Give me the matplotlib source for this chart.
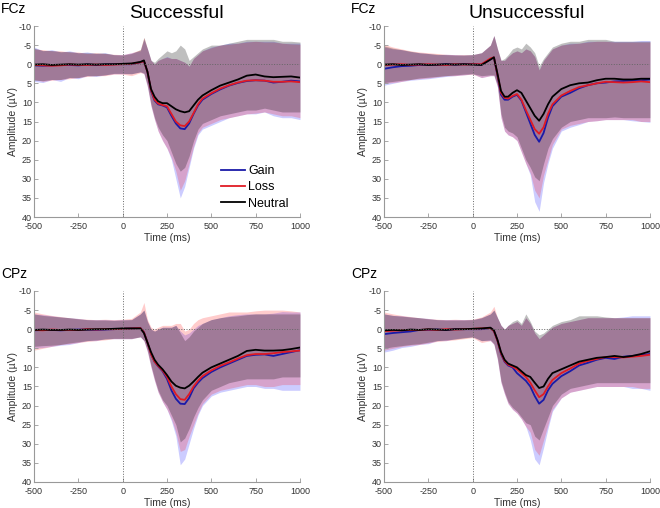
import matplotlib
matplotlib.use('Agg')
import matplotlib.pyplot as plt

plt.rcParams['font.family'] = ['Liberation Sans', 'DejaVu Sans']
plt.rcParams['axes.unicode_minus'] = False

t = [-500, -450, -400, -350, -300, -250, -200, -150, -100, -50, 0, 50, 100, 120, 140, 160, 180, 200,
     225, 250, 275, 300, 325, 350, 375, 400, 425, 450, 500, 550, 600, 650, 700, 750, 800, 850, 900, 950, 1000]

# FCz, successful
fs_gain = [0.3, 0.4, 0.3, 0.2, 0.2, 0.3, 0.1, 0.2, 0.1, 0.0, 0.0, 0.0, -0.5, -0.8, 2.0, 7.0, 9.5, 10.5, 10.8, 11.3, 13.5, 15.5, 16.8, 17.0, 15.5, 13.0, 10.8, 9.3, 7.8, 6.6, 5.6, 4.9, 4.4, 4.2, 4.3, 4.8, 4.6, 4.3, 4.5]
fs_loss = [0.2, 0.3, 0.4, 0.3, 0.1, 0.2, 0.2, 0.1, 0.2, 0.1, 0.0, -0.1, -0.5, -0.8, 2.0, 6.8, 9.3, 10.3, 10.7, 11.0, 13.0, 15.0, 16.0, 16.2, 15.0, 12.8, 10.5, 9.0, 7.6, 6.4, 5.5, 4.8, 4.3, 4.2, 4.3, 4.6, 4.6, 4.5, 4.7]
fs_neut = [0.1, 0.0, 0.2, 0.1, 0.0, 0.1, 0.0, 0.1, 0.0, 0.0, -0.1, -0.2, -0.6, -1.0, 2.0, 6.5, 8.5, 9.7, 10.2, 10.2, 11.0, 11.8, 12.3, 12.6, 12.3, 10.8, 9.3, 8.2, 6.8, 5.6, 4.8, 4.0, 3.0, 2.7, 3.2, 3.4, 3.3, 3.2, 3.5]
fs_gain_top = [-4.5, -3.5, -3.8, -3.2, -3.5, -3.0, -3.2, -2.8, -3.0, -2.5, -2.5, -3.0, -3.5, -6.5, -4.0, -1.0, 0.0, -1.0, -1.5, -2.0, -1.5, -1.5, -1.0, -0.5, 0.5, -1.5, -2.5, -3.5, -4.5, -5.0, -5.5, -5.5, -6.0, -6.0, -6.0, -6.0, -5.5, -5.5, -5.5]
fs_loss_top = [-4.0, -3.8, -3.5, -3.5, -3.2, -3.2, -2.8, -3.0, -2.8, -2.6, -2.5, -3.0, -3.8, -7.0, -4.0, -1.0, 0.0, -1.0, -1.5, -1.8, -1.5, -1.5, -1.0, -0.5, 0.5, -1.5, -2.5, -3.5, -4.3, -5.0, -5.2, -5.5, -5.8, -6.0, -5.8, -5.8, -5.5, -5.3, -5.2]
fs_neut_top = [-4.2, -3.6, -3.6, -3.3, -3.3, -3.0, -3.0, -2.9, -2.9, -2.5, -2.4, -2.8, -3.8, -7.0, -4.0, -1.0, -0.5, -1.5, -2.5, -3.5, -3.0, -3.5, -5.0, -4.0, -1.0, -2.0, -3.0, -4.0, -5.0, -5.0, -5.5, -6.0, -6.5, -6.5, -6.5, -6.5, -6.0, -6.0, -5.8]
fs_gain_bot = [4.5, 4.8, 4.0, 4.5, 3.5, 3.8, 3.0, 3.2, 2.8, 2.5, 2.5, 2.5, 2.0, 2.5, 6.0, 11.0, 14.5, 17.5, 20.0, 22.0, 25.0, 30.0, 35.0, 32.0, 27.0, 22.0, 18.5, 17.0, 16.0, 15.0, 14.0, 13.5, 13.0, 13.0, 12.5, 13.5, 14.0, 14.0, 14.5]
fs_loss_bot = [4.0, 4.5, 4.2, 4.0, 3.8, 3.5, 3.2, 3.0, 3.0, 2.6, 2.6, 3.0, 2.2, 2.5, 6.0, 11.0, 14.5, 17.5, 20.0, 22.0, 24.5, 28.0, 33.0, 30.5, 26.0, 21.5, 18.0, 16.5, 15.5, 14.5, 14.0, 13.5, 13.0, 12.8, 12.5, 13.0, 13.5, 13.5, 14.0]
fs_neut_bot = [4.2, 4.3, 4.0, 4.0, 3.5, 3.5, 3.0, 3.0, 2.8, 2.4, 2.4, 2.5, 2.0, 2.3, 5.5, 10.5, 14.0, 16.5, 18.5, 20.0, 23.0, 26.0, 28.0, 27.0, 24.0, 20.0, 17.0, 15.5, 14.5, 13.5, 13.0, 12.5, 12.0, 12.0, 11.5, 12.0, 12.5, 12.5, 12.5]

# FCz, unsuccessful
fu_gain = [1.2, 0.8, 0.5, 0.4, 0.2, 0.1, 0.2, 0.0, 0.1, 0.0, 0.0, 0.1, -1.3, -1.8, 3.0, 8.0, 9.3, 9.3, 8.5, 8.0, 9.5, 12.5, 15.5, 18.5, 20.3, 18.0, 14.0, 11.0, 8.5, 7.5, 6.3, 5.5, 5.0, 4.8, 4.5, 4.4, 4.3, 4.2, 4.0]
fu_loss = [0.2, 0.1, 0.0, 0.2, 0.1, 0.0, 0.1, 0.2, 0.0, 0.1, 0.0, 0.0, -1.5, -1.8, 2.8, 7.5, 8.8, 9.0, 8.3, 7.8, 9.3, 12.0, 14.5, 17.0, 18.2, 16.5, 13.0, 10.5, 8.2, 7.0, 6.0, 5.5, 5.0, 4.6, 4.7, 4.8, 4.7, 4.5, 4.7]
fu_neut = [0.1, 0.0, 0.2, 0.1, 0.0, 0.2, 0.1, 0.0, 0.1, 0.0, 0.1, 0.2, -1.2, -1.8, 2.5, 7.0, 8.5, 8.5, 7.5, 6.8, 7.5, 9.5, 11.5, 13.5, 14.8, 13.0, 10.5, 8.5, 6.5, 5.5, 5.0, 4.8, 4.2, 3.8, 3.8, 4.0, 4.0, 3.8, 3.8]
fu_gain_top = [-4.5, -4.0, -3.8, -3.3, -3.0, -2.8, -2.5, -2.6, -2.5, -2.4, -2.5, -3.0, -5.0, -7.5, -4.0, -1.0, -1.0, -2.0, -3.0, -3.5, -3.0, -4.0, -3.5, -2.0, 1.5, -1.0, -2.5, -4.0, -5.0, -5.5, -5.5, -6.0, -6.0, -6.0, -6.0, -6.0, -6.0, -6.2, -6.2]
fu_loss_top = [-5.2, -4.5, -4.0, -3.5, -3.2, -3.0, -2.8, -2.6, -2.5, -2.5, -2.5, -3.0, -5.0, -7.5, -4.0, -1.0, -1.0, -2.0, -3.0, -3.5, -3.0, -4.0, -3.5, -2.0, 1.5, -1.0, -2.5, -4.0, -5.0, -5.3, -5.5, -5.8, -6.0, -6.0, -5.8, -5.8, -5.8, -5.8, -5.8]
fu_neut_top = [-4.8, -4.2, -3.8, -3.4, -3.0, -2.8, -2.6, -2.5, -2.4, -2.4, -2.5, -3.0, -5.0, -7.5, -4.0, -1.0, -1.5, -2.5, -4.0, -4.5, -4.0, -5.5, -4.5, -3.0, 0.5, -1.5, -3.0, -4.5, -5.5, -6.0, -6.0, -6.5, -6.5, -6.5, -6.0, -6.0, -6.0, -6.0, -6.0]
fu_gain_bot = [5.5, 5.0, 4.5, 4.2, 4.0, 3.8, 3.5, 3.2, 3.0, 2.8, 2.5, 3.5, 3.0, 3.0, 6.0, 14.0, 17.5, 18.5, 19.0, 20.0, 23.0, 26.0, 29.0, 36.0, 38.5, 31.0, 26.0, 22.0, 17.5, 16.5, 15.8, 15.0, 14.8, 14.5, 14.5, 14.5, 14.8, 15.0, 15.2]
fu_loss_bot = [5.0, 4.8, 4.5, 4.0, 3.8, 3.6, 3.3, 3.0, 3.0, 2.8, 2.6, 3.5, 3.0, 3.0, 6.0, 14.0, 17.5, 18.5, 19.0, 20.0, 23.0, 26.0, 28.5, 33.0, 35.0, 29.0, 25.0, 21.0, 17.0, 16.0, 15.5, 15.0, 14.8, 14.5, 14.5, 14.5, 14.5, 15.0, 15.0]
fu_neut_bot = [4.8, 4.5, 4.2, 4.0, 3.6, 3.4, 3.2, 3.0, 2.8, 2.6, 2.5, 3.0, 2.8, 2.8, 5.5, 13.0, 16.5, 17.5, 18.0, 19.0, 22.0, 25.0, 27.0, 29.5, 30.5, 26.0, 22.0, 19.5, 16.5, 15.0, 14.5, 14.0, 14.0, 14.0, 13.8, 14.0, 14.0, 14.0, 14.0]

# CPz, successful
cs_gain = [0.3, 0.2, 0.2, 0.3, 0.2, 0.1, 0.1, 0.2, 0.1, 0.0, -0.1, -0.2, -0.3, 0.8, 3.5, 6.5, 8.5, 9.7, 11.0, 13.0, 16.0, 18.2, 19.5, 19.6, 18.0, 15.5, 14.0, 12.8, 11.2, 10.0, 9.0, 8.0, 7.0, 6.7, 6.6, 7.0, 6.5, 6.0, 5.5]
cs_loss = [0.2, 0.3, 0.1, 0.2, 0.2, 0.2, 0.0, 0.1, 0.0, 0.0, -0.1, -0.2, -0.3, 0.8, 3.5, 6.5, 8.5, 9.6, 10.8, 12.5, 15.0, 17.0, 18.3, 18.5, 17.0, 15.0, 13.5, 12.3, 10.8, 9.6, 8.7, 7.7, 6.8, 6.5, 6.5, 6.3, 6.0, 5.8, 5.6]
cs_neut = [0.2, 0.1, 0.2, 0.2, 0.1, 0.2, 0.1, 0.0, 0.0, -0.1, -0.2, -0.2, -0.2, 1.0, 3.5, 6.0, 8.0, 9.3, 10.5, 12.0, 13.7, 14.8, 15.3, 15.5, 14.8, 13.7, 12.5, 11.4, 10.0, 9.0, 8.0, 7.0, 5.7, 5.4, 5.6, 5.6, 5.5, 5.2, 4.8]
cs_gain_top = [-4.0, -3.8, -3.5, -3.2, -3.0, -2.8, -2.5, -2.5, -2.5, -2.4, -2.5, -2.5, -4.0, -5.0, -2.0, 0.0, 0.5, 0.0, -0.5, -0.5, -0.5, -1.0, 0.5, 1.5, 1.0, 0.0, -1.0, -1.5, -2.5, -3.0, -3.5, -3.8, -4.0, -4.0, -4.0, -4.2, -4.6, -4.5, -4.5]
cs_loss_top = [-4.5, -4.0, -3.6, -3.3, -3.0, -2.8, -2.6, -2.5, -2.6, -2.5, -2.6, -2.8, -4.5, -7.0, -2.5, -0.5, 0.0, -0.5, -1.0, -1.0, -1.0, -1.5, -1.5, 0.5, 0.0, -1.5, -2.5, -3.0, -3.5, -4.0, -4.5, -4.5, -4.5, -4.8, -5.0, -5.0, -5.0, -4.8, -4.5]
cs_neut_top = [-4.0, -3.6, -3.4, -3.2, -3.0, -2.7, -2.5, -2.4, -2.4, -2.3, -2.4, -2.5, -4.0, -5.0, -2.0, 0.0, 0.5, 0.0, -0.5, -0.5, -0.5, -1.0, 1.0, 3.0, 2.0, 0.5, -0.5, -1.5, -2.5, -3.0, -3.3, -3.5, -3.8, -4.0, -4.0, -4.0, -4.0, -4.0, -4.0]
cs_gain_bot = [5.0, 4.8, 4.5, 4.2, 4.0, 3.5, 3.0, 3.0, 2.5, 2.5, 2.5, 2.5, 2.0, 3.0, 6.0, 10.0, 13.5, 16.5, 19.0, 21.0, 24.0, 28.0, 35.5, 34.0, 30.0, 26.0, 22.5, 20.0, 17.5, 16.5, 16.0, 15.5, 15.0, 15.0, 15.5, 15.5, 16.0, 16.0, 16.0]
cs_loss_bot = [5.5, 5.0, 4.5, 4.0, 3.8, 3.5, 3.2, 3.0, 2.8, 2.5, 2.5, 2.5, 2.0, 3.0, 6.0, 10.0, 13.5, 16.5, 19.0, 21.0, 23.5, 27.0, 32.0, 31.5, 28.0, 25.0, 22.0, 19.5, 17.0, 16.0, 15.5, 15.0, 14.5, 14.5, 15.0, 15.0, 14.5, 14.5, 14.5]
cs_neut_bot = [4.5, 4.3, 4.2, 4.0, 3.6, 3.3, 3.0, 2.8, 2.6, 2.4, 2.4, 2.4, 2.0, 3.0, 5.5, 9.5, 13.0, 16.0, 18.5, 20.0, 22.5, 25.0, 29.5, 28.5, 26.0, 23.0, 20.5, 18.5, 16.0, 15.0, 14.0, 13.5, 13.0, 13.0, 13.0, 13.0, 12.5, 12.5, 12.5]

# CPz, unsuccessful
cu_gain = [1.3, 1.0, 0.8, 0.6, 0.2, 0.2, 0.1, 0.2, 0.0, 0.0, 0.0, 0.0, -0.3, 0.5, 3.0, 6.5, 8.5, 9.5, 10.0, 11.5, 12.5, 13.5, 15.0, 17.5, 19.5, 18.5, 16.0, 14.3, 12.3, 11.0, 9.5, 8.8, 8.0, 7.5, 7.8, 7.2, 7.0, 6.8, 6.5]
cu_loss = [0.5, 0.4, 0.3, 0.2, 0.2, 0.1, 0.2, 0.0, 0.1, 0.0, -0.1, -0.2, -0.3, 0.5, 3.0, 6.3, 8.3, 9.3, 9.8, 10.5, 11.5, 12.5, 14.0, 16.0, 17.8, 17.0, 15.0, 13.3, 11.5, 10.3, 9.0, 8.3, 7.8, 7.3, 7.3, 7.4, 7.2, 7.0, 6.7]
cu_neut = [0.3, 0.2, 0.3, 0.1, 0.2, 0.0, 0.1, 0.2, 0.0, 0.0, -0.1, -0.2, -0.4, 0.3, 2.8, 6.0, 8.0, 9.0, 9.5, 10.0, 11.0, 12.0, 12.5, 14.0, 15.4, 15.0, 13.0, 11.5, 10.5, 9.5, 8.5, 8.0, 7.5, 7.3, 7.0, 7.3, 7.0, 6.5, 5.8]
cu_gain_top = [-4.0, -3.6, -3.5, -3.2, -3.0, -2.8, -2.5, -2.5, -2.5, -2.5, -2.5, -3.0, -4.0, -5.0, -3.0, -1.0, 0.0, -1.0, -1.5, -2.0, -1.0, -3.0, -1.5, 1.0, 2.5, 1.5, 0.5, -0.5, -1.5, -2.0, -2.5, -3.0, -3.0, -3.0, -3.0, -3.2, -3.5, -3.5, -3.5]
cu_loss_top = [-4.5, -4.0, -3.6, -3.3, -3.0, -2.8, -2.6, -2.5, -2.6, -2.5, -2.6, -3.2, -4.5, -6.0, -3.0, -1.0, 0.0, -1.0, -1.5, -2.0, -1.0, -3.0, -1.5, 1.0, 2.5, 1.5, 0.5, -0.5, -1.5, -2.0, -2.5, -3.0, -3.0, -3.0, -3.0, -3.0, -3.0, -3.0, -3.0]
cu_neut_top = [-4.0, -3.6, -3.4, -3.2, -3.0, -2.7, -2.5, -2.4, -2.4, -2.4, -2.5, -3.0, -4.0, -5.0, -3.0, -1.0, 0.0, -1.0, -2.0, -2.5, -1.5, -4.0, -2.0, 0.5, 1.5, 1.0, 0.0, -1.0, -2.0, -2.5, -3.5, -3.5, -3.5, -3.2, -3.0, -3.0, -3.0, -3.0, -3.0]
cu_gain_bot = [6.0, 5.5, 4.8, 4.5, 4.0, 3.8, 3.0, 3.0, 2.5, 2.2, 2.0, 3.0, 3.0, 4.0, 8.0, 14.0, 17.0, 19.5, 21.0, 22.0, 23.5, 25.5, 29.0, 34.0, 35.5, 31.0, 26.0, 21.5, 18.0, 16.5, 16.0, 15.5, 15.0, 15.0, 15.0, 15.0, 15.5, 15.5, 16.0]
cu_loss_bot = [5.5, 5.0, 4.5, 4.2, 4.0, 3.6, 3.2, 3.0, 2.8, 2.5, 2.2, 3.5, 3.0, 4.0, 8.0, 14.0, 17.0, 19.5, 21.0, 22.0, 23.5, 25.5, 27.0, 31.5, 33.0, 29.0, 25.0, 21.0, 18.0, 16.5, 16.0, 15.5, 15.0, 15.0, 15.0, 15.0, 15.0, 15.5, 15.5]
cu_neut_bot = [5.0, 4.6, 4.3, 4.0, 3.8, 3.4, 3.0, 2.8, 2.6, 2.3, 2.0, 3.0, 2.8, 3.8, 7.5, 13.5, 16.5, 19.0, 20.5, 21.5, 23.0, 24.5, 25.0, 28.0, 29.0, 26.0, 23.0, 20.0, 17.0, 15.5, 15.0, 14.5, 14.0, 14.0, 14.0, 14.0, 14.0, 14.0, 14.0]

labels = ['Gain', 'Loss', 'Neutral']
line_colors = ['#1a1aa8', '#e01b24', 'black']
fill_colors = ['blue', 'red', 'black']
fill_alpha = [0.2, 0.2, 0.25]

panels = [
    ('FCz', 'Successful', [0.0515, 0.5728, 0.403, 0.376],
     [(fs_gain, fs_gain_top, fs_gain_bot), (fs_loss, fs_loss_top, fs_loss_bot), (fs_neut, fs_neut_top, fs_neut_bot)]),
    ('FCz', 'Unsuccessful', [0.5818, 0.5728, 0.403, 0.376],
     [(fu_gain, fu_gain_top, fu_gain_bot), (fu_loss, fu_loss_top, fu_loss_bot), (fu_neut, fu_neut_top, fu_neut_bot)]),
    ('CPz', None, [0.0515, 0.0512, 0.403, 0.376],
     [(cs_gain, cs_gain_top, cs_gain_bot), (cs_loss, cs_loss_top, cs_loss_bot), (cs_neut, cs_neut_top, cs_neut_bot)]),
    ('CPz', None, [0.5818, 0.0512, 0.403, 0.376],
     [(cu_gain, cu_gain_top, cu_gain_bot), (cu_loss, cu_loss_top, cu_loss_bot), (cu_neut, cu_neut_top, cu_neut_bot)]),
]

fig = plt.figure(figsize=(6.6, 5.08), dpi=100)
axes = []
for chan, title, pos, series in panels:
    ax = fig.add_axes(pos)
    for (m, top, bot), fc, a in zip(series, fill_colors, fill_alpha):
        ax.fill_between(t, top, bot, color=fc, alpha=a, lw=0)
    for (m, top, bot), lc, lab in zip(series, line_colors, labels):
        ax.plot(t, m, color=lc, lw=1.3, label=lab)
    ax.axhline(0, color='#666666', ls=':', lw=0.7)
    ax.axvline(0, color='#666666', ls=':', lw=0.7)
    ax.set_xlim(-500, 1000)
    ax.set_ylim(40, -10)
    ax.set_xticks([-500, -250, 0, 250, 500, 750, 1000])
    ax.set_yticks(range(-10, 41, 5))
    for s in ['top', 'right']:
        ax.spines[s].set_visible(False)
    for s in ['left', 'bottom']:
        ax.spines[s].set_color('#999999')
        ax.spines[s].set_linewidth(0.8)
    ax.tick_params(direction='in', length=3, width=0.6, colors='#999999',
                   labelcolor='#333333', labelsize=6.5, pad=1.5)
    ax.tick_params(axis='x', pad=3.5)
    for lbl in ax.get_yticklabels():
        lbl.set_va('center_baseline')
    ax.set_xlabel('Time (ms)', fontsize=7.5, color='#333333', labelpad=1.5)
    ax.set_ylabel('Amplitude (µV)', fontsize=7.5, color='#333333', labelpad=1)
    bb = ax.get_position()
    fig.text(bb.x0 - 0.05, bb.y1 + 0.02, chan, fontsize=10, ha='left', va='bottom')
    if title:
        fig.text(bb.x0 + bb.width * 0.535, bb.y1 + 0.008, title, fontsize=14, ha='center', va='bottom')
    axes.append(ax)

axes[0].legend(loc='upper left', bbox_to_anchor=(0.328, 0.685), bbox_transform=fig.transFigure,
               frameon=False, fontsize=9, handlelength=1.9, handletextpad=0.25, labelspacing=0.35,
               borderaxespad=0)

fig.savefig('out.png', dpi=100)
